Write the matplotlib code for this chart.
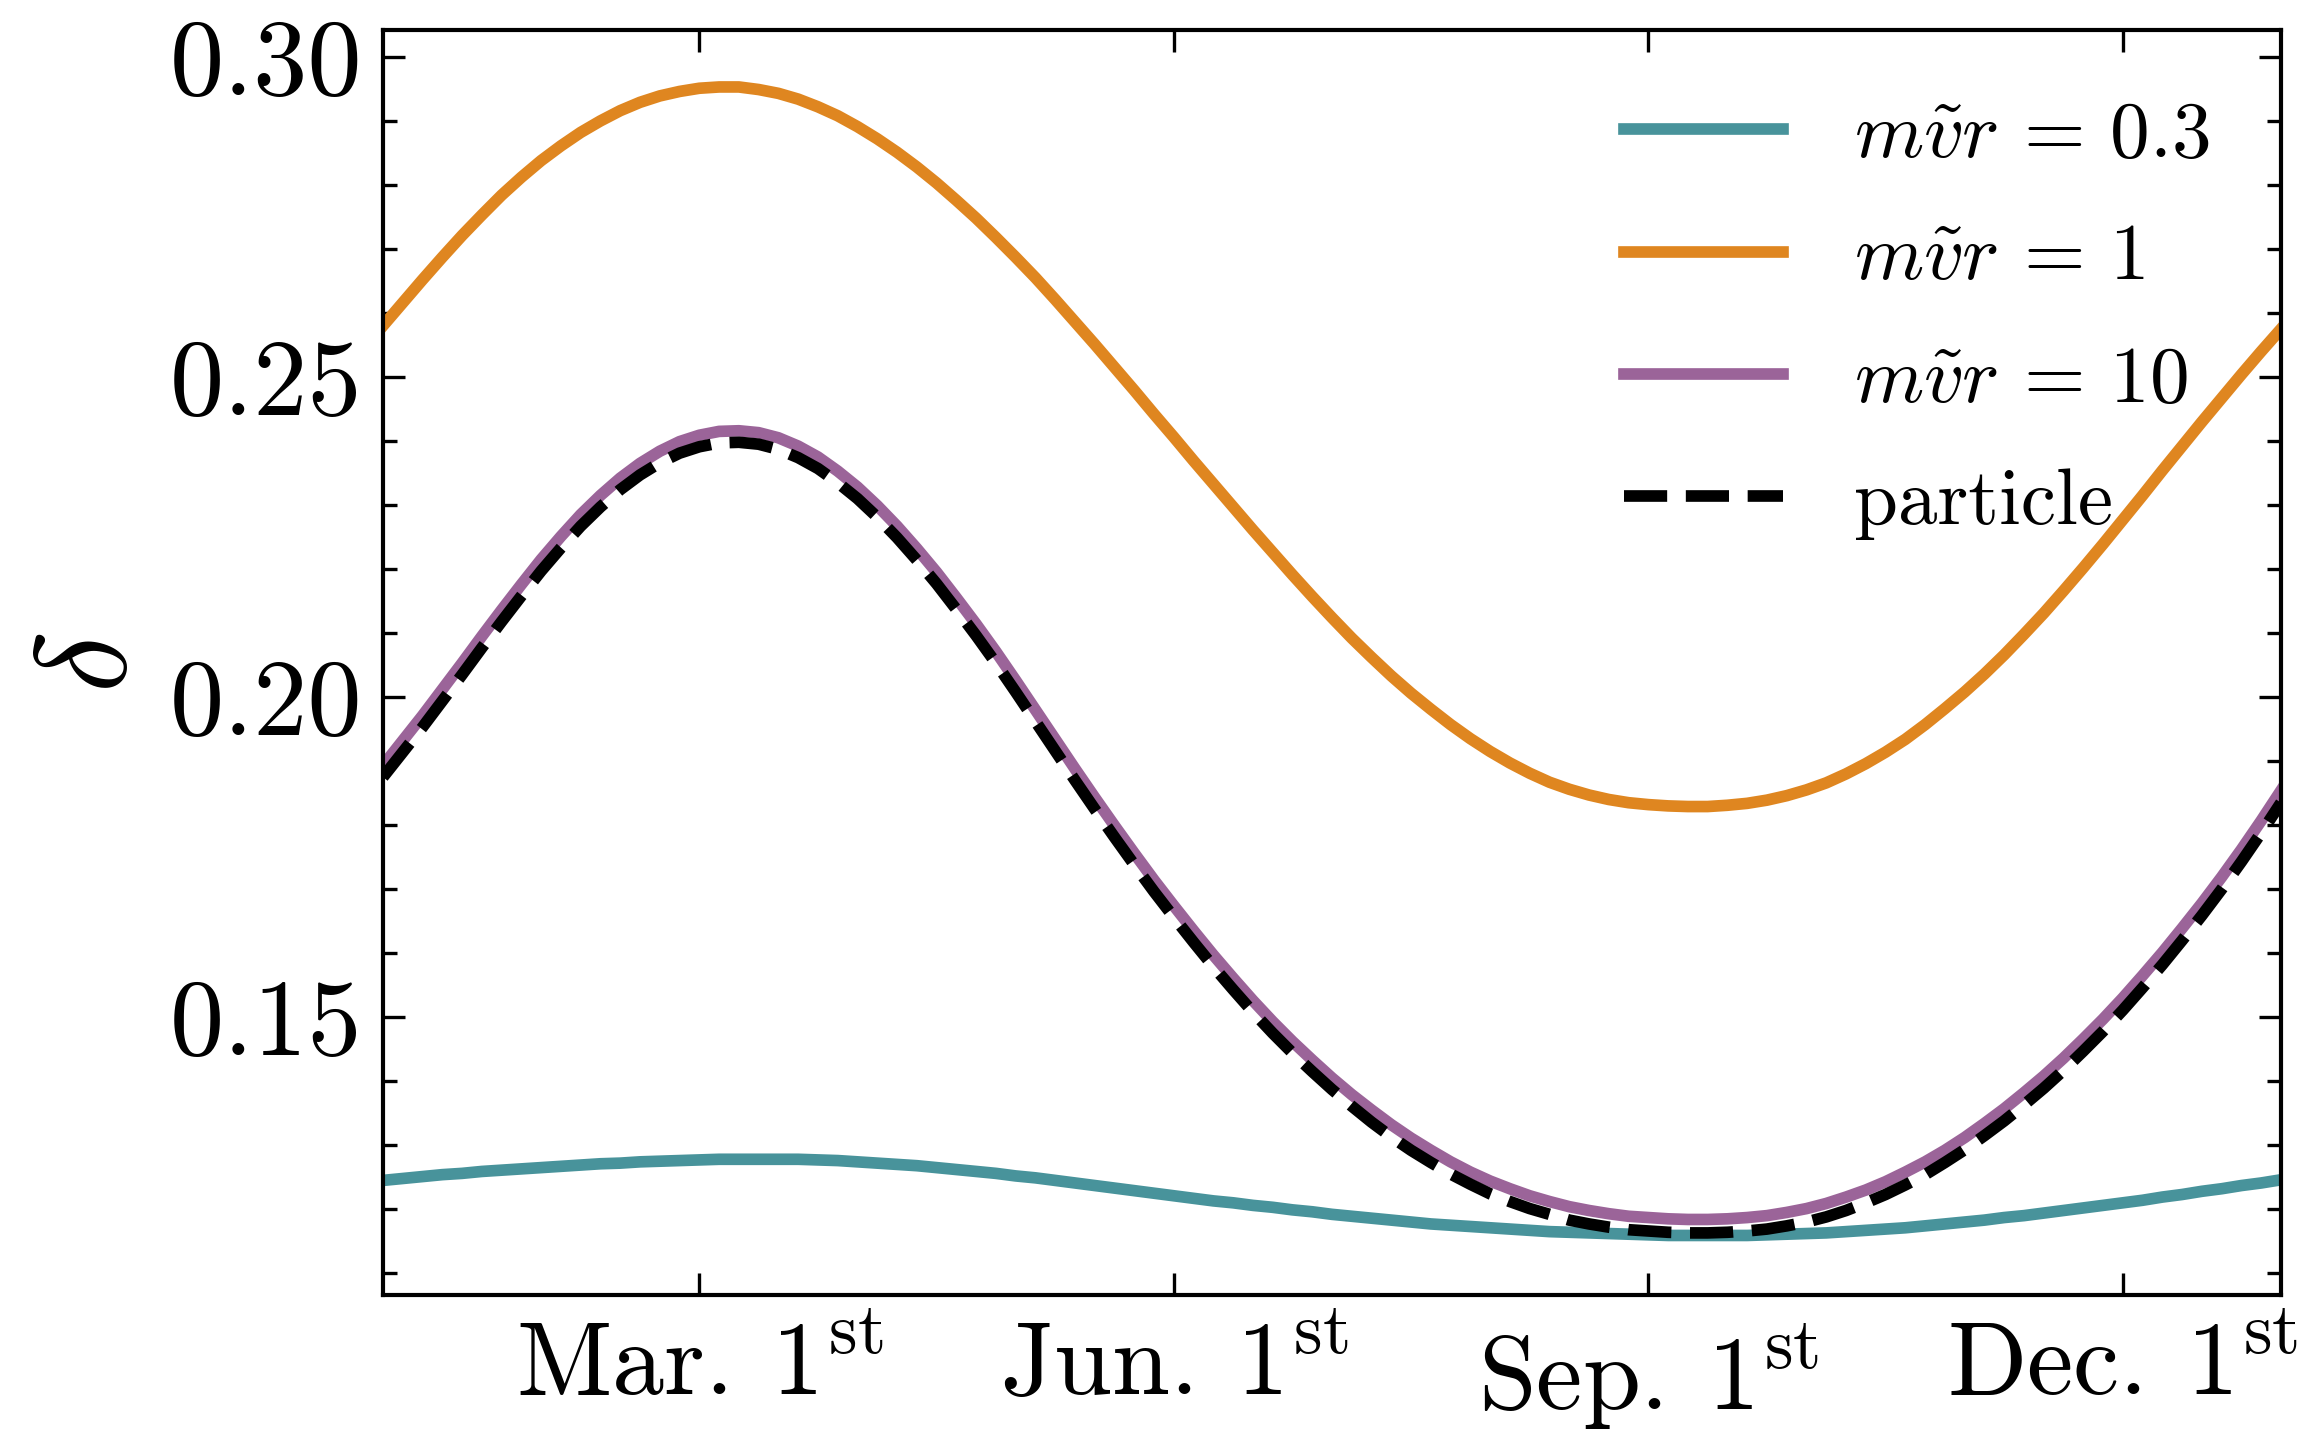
import numpy as np
import matplotlib
matplotlib.use("Agg")
import matplotlib.pyplot as plt
from matplotlib.ticker import MultipleLocator, FixedLocator, FormatStrFormatter

plt.rcParams["font.family"] = "serif"
plt.rcParams["font.serif"] = ["cmr10"]
plt.rcParams["mathtext.fontset"] = "cm"
plt.rcParams["axes.formatter.use_mathtext"] = True

# time of year in months, sampled every eighth of a month (Jan 1st = 0)
months = np.arange(97) * 0.125

delta_03 = [0.1245, 0.1248, 0.1251, 0.1254, 0.1256, 0.1259, 0.1261, 0.1263,
            0.1265, 0.1267, 0.1269, 0.1271, 0.1272, 0.1274, 0.1275, 0.1276,
            0.1277, 0.1278, 0.1278, 0.1278, 0.1278, 0.1278, 0.1277, 0.1276,
            0.1274, 0.1272, 0.1270, 0.1268, 0.1265, 0.1262, 0.1259, 0.1256,
            0.1252, 0.1249, 0.1245, 0.1241, 0.1237, 0.1233, 0.1229, 0.1225,
            0.1221, 0.1217, 0.1213, 0.1210, 0.1206, 0.1203, 0.1199, 0.1196,
            0.1192, 0.1189, 0.1186, 0.1183, 0.1180, 0.1177, 0.1175, 0.1173,
            0.1171, 0.1169, 0.1167, 0.1165, 0.1164, 0.1163, 0.1162, 0.1161,
            0.1160, 0.1159, 0.1159, 0.1159, 0.1159, 0.1159, 0.1160, 0.1161,
            0.1162, 0.1163, 0.1165, 0.1167, 0.1169, 0.1171, 0.1174, 0.1177,
            0.1180, 0.1183, 0.1187, 0.1190, 0.1194, 0.1198, 0.1202, 0.1206,
            0.1210, 0.1214, 0.1219, 0.1223, 0.1228, 0.1232, 0.1237, 0.1241,
            0.1246]

delta_1 = [0.2580, 0.2616, 0.2652, 0.2687, 0.2721, 0.2753, 0.2784, 0.2812,
           0.2838, 0.2861, 0.2882, 0.2900, 0.2916, 0.2929, 0.2939, 0.2946,
           0.2951, 0.2953, 0.2953, 0.2949, 0.2943, 0.2934, 0.2922, 0.2908,
           0.2891, 0.2872, 0.2851, 0.2828, 0.2803, 0.2776, 0.2748, 0.2718,
           0.2687, 0.2655, 0.2621, 0.2586, 0.2551, 0.2515, 0.2479, 0.2442,
           0.2406, 0.2369, 0.2333, 0.2297, 0.2261, 0.2226, 0.2191, 0.2157,
           0.2124, 0.2092, 0.2062, 0.2033, 0.2006, 0.1981, 0.1957, 0.1935,
           0.1915, 0.1897, 0.1881, 0.1867, 0.1856, 0.1847, 0.1840, 0.1835,
           0.1832, 0.1830, 0.1829, 0.1829, 0.1831, 0.1834, 0.1839, 0.1846,
           0.1855, 0.1866, 0.1880, 0.1896, 0.1914, 0.1934, 0.1957, 0.1982,
           0.2008, 0.2036, 0.2066, 0.2098, 0.2131, 0.2166, 0.2202, 0.2239,
           0.2277, 0.2315, 0.2354, 0.2392, 0.2430, 0.2467, 0.2504, 0.2540,
           0.2575]

delta_10 = [0.1893, 0.1932, 0.1971, 0.2012, 0.2053, 0.2095, 0.2136, 0.2176,
            0.2215, 0.2251, 0.2285, 0.2315, 0.2342, 0.2365, 0.2384, 0.2399,
            0.2409, 0.2415, 0.2416, 0.2413, 0.2405, 0.2392, 0.2375, 0.2353,
            0.2328, 0.2299, 0.2267, 0.2232, 0.2195, 0.2155, 0.2114, 0.2071,
            0.2026, 0.1980, 0.1934, 0.1888, 0.1843, 0.1799, 0.1756, 0.1714,
            0.1674, 0.1635, 0.1597, 0.1561, 0.1526, 0.1493, 0.1462, 0.1433,
            0.1405, 0.1379, 0.1355, 0.1332, 0.1311, 0.1292, 0.1274, 0.1258,
            0.1244, 0.1232, 0.1221, 0.1212, 0.1204, 0.1198, 0.1193, 0.1189,
            0.1187, 0.1185, 0.1184, 0.1184, 0.1185, 0.1187, 0.1190, 0.1195,
            0.1201, 0.1209, 0.1219, 0.1230, 0.1243, 0.1258, 0.1274, 0.1292,
            0.1312, 0.1334, 0.1357, 0.1382, 0.1408, 0.1436, 0.1466, 0.1497,
            0.1530, 0.1565, 0.1601, 0.1639, 0.1678, 0.1719, 0.1762, 0.1807,
            0.1854]

delta_particle = [0.1875, 0.1914, 0.1953, 0.1994, 0.2035, 0.2077, 0.2118, 0.2158,
                  0.2197, 0.2233, 0.2267, 0.2297, 0.2324, 0.2347, 0.2366, 0.2381,
                  0.2391, 0.2397, 0.2398, 0.2395, 0.2387, 0.2374, 0.2357, 0.2335,
                  0.2310, 0.2281, 0.2249, 0.2214, 0.2177, 0.2137, 0.2096, 0.2053,
                  0.2008, 0.1962, 0.1916, 0.1870, 0.1825, 0.1781, 0.1738, 0.1696,
                  0.1656, 0.1617, 0.1579, 0.1543, 0.1508, 0.1475, 0.1444, 0.1415,
                  0.1387, 0.1361, 0.1336, 0.1313, 0.1292, 0.1273, 0.1255, 0.1239,
                  0.1224, 0.1212, 0.1201, 0.1192, 0.1183, 0.1177, 0.1172, 0.1168,
                  0.1166, 0.1164, 0.1163, 0.1163, 0.1164, 0.1166, 0.1169, 0.1174,
                  0.1180, 0.1188, 0.1198, 0.1210, 0.1223, 0.1238, 0.1254, 0.1273,
                  0.1293, 0.1315, 0.1338, 0.1363, 0.1389, 0.1417, 0.1447, 0.1478,
                  0.1511, 0.1546, 0.1582, 0.1620, 0.1659, 0.1700, 0.1743, 0.1788,
                  0.1835]

tick_months = [2, 5, 8, 11]
tick_labels = [r"$\mathrm{Mar.\:1^{st}}$", r"$\mathrm{Jun.\:1^{st}}$",
               r"$\mathrm{Sep.\:1^{st}}$", r"$\mathrm{Dec.\:1^{st}}$"]

fig = plt.figure(figsize=(7.7, 4.7667), dpi=300)
ax = fig.add_axes([0.1658, 0.0944, 0.82165, 0.88462])

lw = 2.8
ax.plot(months, delta_03, color="#48939b", lw=lw, label=r"$m\tilde{v}r\,=\,0.3$")
ax.plot(months, delta_1, color="#df8620", lw=lw, label=r"$m\tilde{v}r\,=\,1$")
ax.plot(months, delta_10, color="#9b6499", lw=lw, label=r"$m\tilde{v}r\,=\,10$")
ax.plot(months, delta_particle, color="black", lw=lw, ls="--", label="particle")

ax.set_xlim(0, 12)
ax.set_ylim(0.1066, 0.3042)

ax.xaxis.set_major_locator(FixedLocator(tick_months))
ax.set_xticklabels(tick_labels)
ax.yaxis.set_major_locator(MultipleLocator(0.05))
ax.yaxis.set_minor_locator(MultipleLocator(0.01))
ax.yaxis.set_major_formatter(FormatStrFormatter("%.2f"))

ax.tick_params(which="both", direction="in", top=True, right=True, width=0.8)
ax.tick_params(which="major", length=5.3, labelsize=26, pad=5)
ax.tick_params(which="minor", length=3.3)
ax.tick_params(axis="x", labelsize=25, pad=6.5)
for s in ax.spines.values():
    s.set_linewidth(1.0)

ax.set_ylabel(r"$\delta$", fontsize=31, labelpad=4.5)

ax.legend(loc="upper right", frameon=False, fontsize=19, handlelength=2.0,
          handletextpad=0.9, labelspacing=0.64)

fig.savefig("out.png", dpi=300)
